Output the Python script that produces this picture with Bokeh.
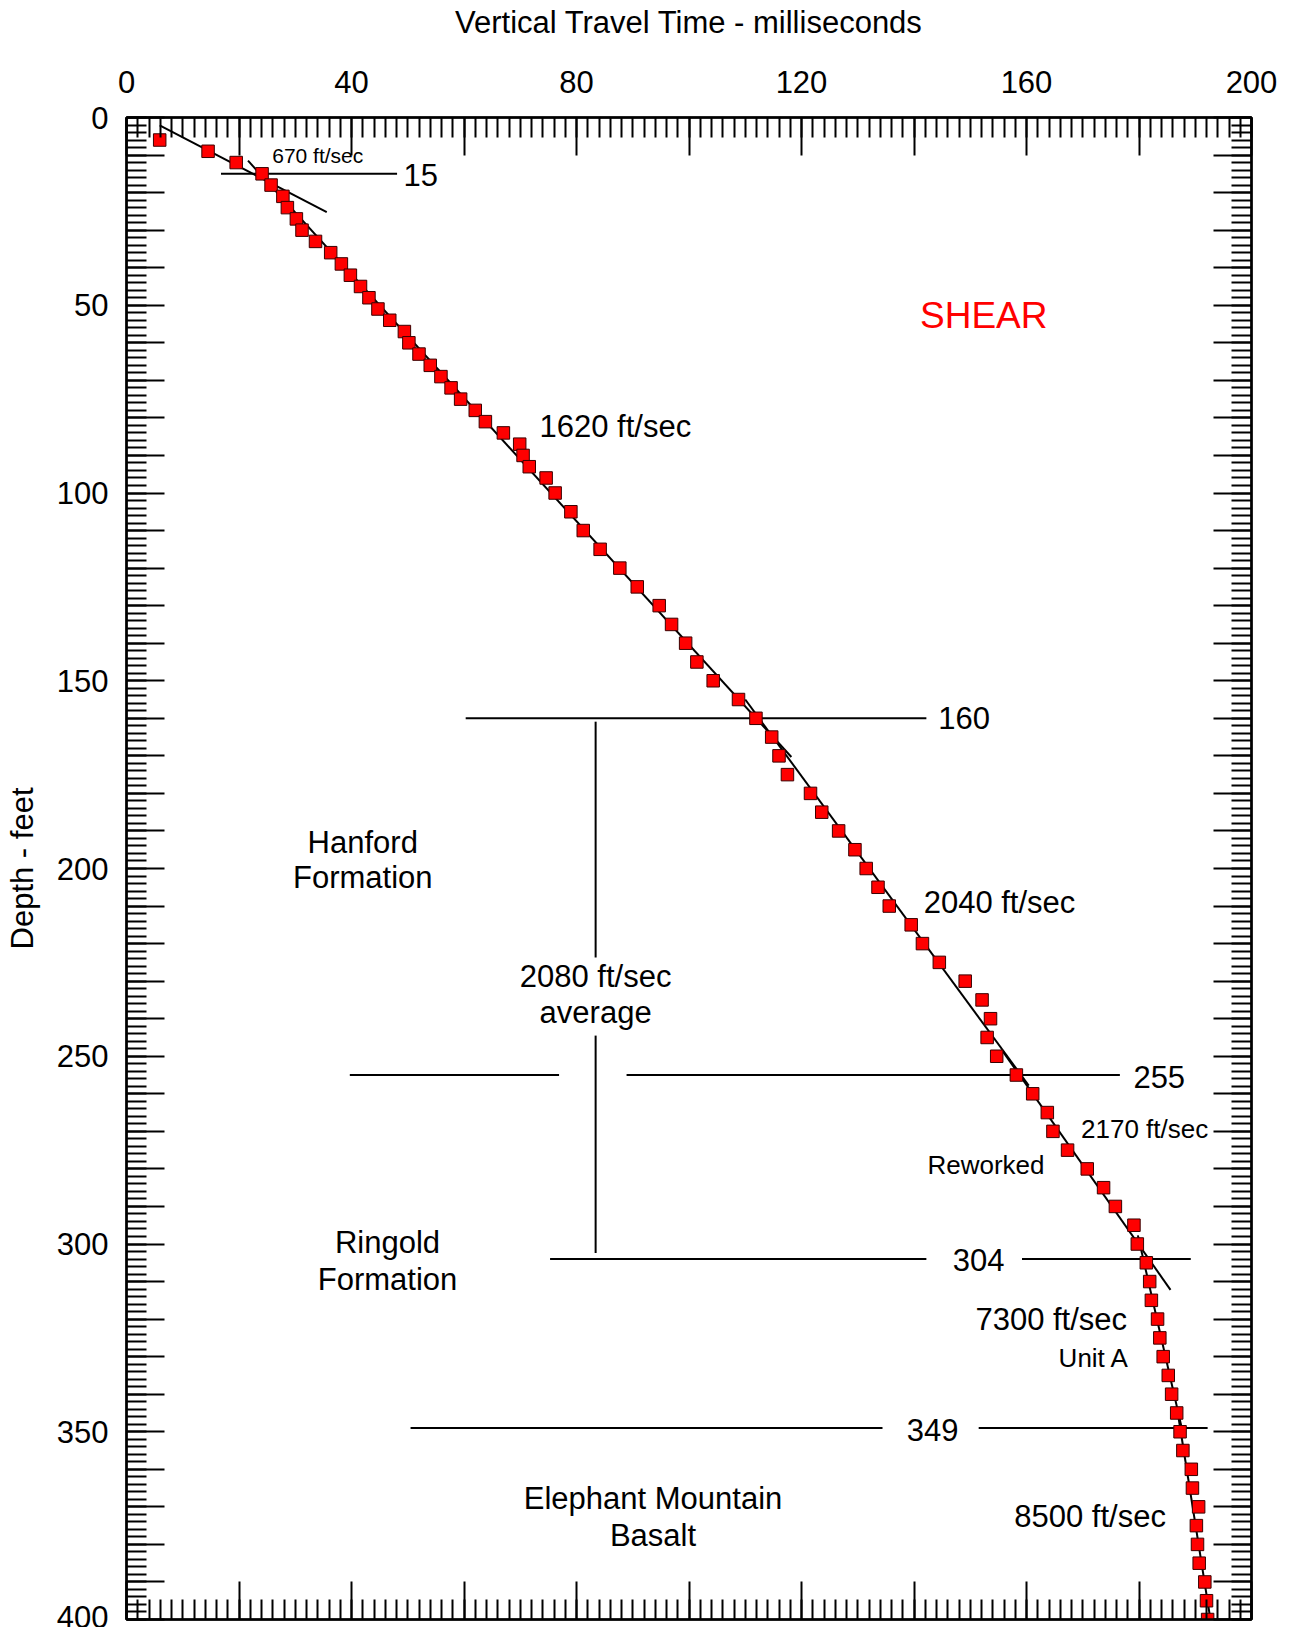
from bokeh.plotting import figure
from bokeh.models import Range1d, LinearAxis, FixedTicker, Label
from bokeh.embed import file_html
from bokeh.resources import INLINE

# ---------------- data ----------------
depth_ft = [6, 9, 12, 15, 18, 21, 24, 27, 30, 33, 36, 39, 42, 45, 48, 51, 54, 57, 60, 63,
            66, 69, 72, 75, 78, 81, 84, 87, 90, 93, 96,
            100, 105, 110, 115, 120, 125, 130, 135, 140, 145, 150, 155, 160, 165, 170, 175,
            180, 185, 190, 195, 200, 205, 210, 215, 220, 225, 230, 235, 240, 245, 250, 255,
            260, 265, 270, 275, 280, 285, 290, 295, 300, 305, 310, 315, 320, 325, 330, 335,
            340, 345, 350, 355, 360, 365, 370, 375, 380, 385, 390, 395, 400]
time_ms = [5.9, 14.5, 19.5, 24.1, 25.7, 27.8, 28.6, 30.2, 31.2, 33.6, 36.3, 38.2, 39.8, 41.6,
           43.1, 44.7, 46.8, 49.4, 50.2, 52.0, 54.0, 55.9, 57.7, 59.4, 62.0, 63.8, 67.0, 69.9,
           70.5, 71.6, 74.6,
           76.2, 79.0, 81.2, 84.2, 87.7, 90.8, 94.7, 96.9, 99.4, 101.4, 104.3, 108.8, 111.9,
           114.7, 116.0, 117.5, 121.6, 123.6, 126.6, 129.5, 131.5, 133.6, 135.6, 139.5, 141.5,
           144.5, 149.1, 152.1, 153.6, 153.0, 154.7, 158.2, 161.1, 163.7, 164.7, 167.3, 170.8,
           173.7, 175.8, 179.1, 179.7, 181.3, 181.9, 182.2, 183.3, 183.7, 184.3, 185.2, 185.8,
           186.7, 187.3, 187.8, 189.3, 189.5, 190.6, 190.2, 190.4, 190.7, 191.7, 192.0, 192.2]

# velocity fit lines (start/end time in ms, start/end depth in ft)
fit_t0 = [5.9, 21.6, 110.0, 155.7, 179.8, 186.9]
fit_d0 = [2.1, 11.5, 155.0, 248.5, 297.7, 345.0]
fit_t1 = [35.6, 118.2, 160.4, 185.6, 187.6, 192.7]
fit_d1 = [25.2, 170.3, 257.8, 312.2, 349.0, 400.0]

# formation boundary lines (depth ft, from/to time ms)
bound_depth = [15, 160, 255, 255, 304, 304, 349, 349]
bound_t0 = [16.8, 60.3, 39.7, 88.9, 75.3, 159.2, 50.5, 151.5]
bound_t1 = [48.1, 142.2, 76.9, 176.6, 142.2, 189.2, 134.4, 192.2]

# average-velocity bracket (vertical lines)
avg_t = [83.4, 83.4]
avg_d0 = [160.9, 244.5]
avg_d1 = [223.7, 302.4]

# big annotations: text, time, depth
big_text = ["15", "160", "255", "304", "349", "1620 ft/sec", "2040 ft/sec",
            "2080 ft/sec", "average", "Hanford", "Formation", "Ringold", "Formation",
            "7300 ft/sec", "8500 ft/sec", "Elephant Mountain", "Basalt"]
big_t = [52.3, 148.9, 183.6, 151.5, 143.3, 86.9, 155.2, 83.4, 83.4, 42.0, 42.0, 46.4, 46.4,
         164.4, 171.3, 93.6, 93.6]
big_d = [15.3, 160.0, 255.5, 304.3, 349.6, 82.2, 209.1, 228.7, 238.4, 193.0, 202.4, 299.6,
         309.4, 320.2, 372.5, 367.8, 377.5]

small_text = ["670 ft/sec", "2170 ft/sec", "Reworked", "Unit A"]
small_t = [34.0, 181.0, 152.8, 172.0]
small_d = [10.1, 269.4, 278.9, 330.4]
small_size = ["21px", "26px", "26px", "26px"]

x_title = "Vertical Travel Time - milliseconds"
y_title = "Depth - feet"

x_labels = [0, 40, 80, 120, 160, 200]          # labelled time ticks
x_long = [20, 60, 100, 140, 180]               # unlabelled long time ticks
x_minor = list(range(0, 201, 2))
y_labels = [0, 50, 100, 150, 200, 250, 300, 350, 400]
y_long = [v for v in range(0, 401, 10) if v % 50 != 0]
y_minor = list(range(0, 401, 2))

FONT = "Liberation Sans"

p = figure(width=1280, height=1627, x_range=Range1d(0, 200), y_range=Range1d(400, 0),
           x_axis_location=None, y_axis_location=None,
           output_backend="svg", toolbar_location=None,
           min_border_left=126, min_border_right=29, min_border_top=117,
           min_border_bottom=8)
p.xgrid.visible = False
p.ygrid.visible = False
p.outline_line_color = "black"
p.outline_line_width = 2
p.background_fill_color = "white"
p.border_fill_color = "white"


def base(ax):
    ax.major_tick_out = 0
    ax.minor_tick_out = 0
    ax.major_tick_line_width = 2
    ax.minor_tick_line_width = 2
    ax.axis_line_width = 2
    ax.major_tick_line_color = "black"
    ax.minor_tick_line_color = "black"
    ax.axis_line_color = "black"
    ax.major_label_text_font = FONT
    ax.major_label_text_color = "black"
    ax.major_label_text_font_size = "31px"
    ax.axis_label_text_font = FONT
    ax.axis_label_text_font_style = "normal"
    ax.axis_label_text_color = "black"
    ax.axis_label_text_font_size = "31px"
    return ax


def long_only(ticks):
    # axis without labels drawing only the long unlabelled ticks
    ax = base(LinearAxis(ticker=FixedTicker(ticks=[], minor_ticks=ticks)))
    ax.minor_tick_in = 38
    ax.major_label_standoff = 0
    return ax


# top
p.add_layout(long_only(x_long), "above")
top = base(LinearAxis(ticker=FixedTicker(ticks=x_labels, minor_ticks=x_minor)))
top.major_tick_in = 38
top.minor_tick_in = 20
top.major_label_standoff = 25
top.axis_label = x_title
top.axis_label_standoff = 28
p.add_layout(top, "above")

# left
p.add_layout(long_only(y_long), "left")
left = base(LinearAxis(ticker=FixedTicker(ticks=y_labels, minor_ticks=y_minor)))
left.major_tick_in = 38
left.minor_tick_in = 20
left.axis_label = y_title
left.major_label_standoff = 18
left.axis_label_standoff = 14
p.add_layout(left, "left")

# bottom and right: ticks only
p.add_layout(long_only(x_labels + x_long), "below")
bmin = base(LinearAxis(ticker=FixedTicker(ticks=[], minor_ticks=x_minor)))
bmin.minor_tick_in = 20
bmin.major_label_standoff = 0
p.add_layout(bmin, "below")

p.add_layout(long_only(y_labels + y_long), "right")
rmin = base(LinearAxis(ticker=FixedTicker(ticks=[], minor_ticks=y_minor)))
rmin.minor_tick_in = 20
rmin.major_label_standoff = 0
p.add_layout(rmin, "right")

# boundary lines
p.segment(x0=bound_t0, y0=bound_depth, x1=bound_t1, y1=bound_depth,
          line_color="black", line_width=2)
p.segment(x0=avg_t, y0=avg_d0, x1=avg_t, y1=avg_d1, line_color="black", line_width=2)
# fit lines
p.segment(x0=fit_t0, y0=fit_d0, x1=fit_t1, y1=fit_d1, line_color="black", line_width=2)
# data points
p.scatter(time_ms, depth_ft, marker="square", size=12.5, fill_color="#ff0000",
          line_color="#3a0000", line_width=1)

for s, t, d in zip(big_text, big_t, big_d):
    p.add_layout(Label(x=t, y=d, text=s, text_align="center", text_baseline="middle",
                       text_font=FONT, text_font_size="31px", text_color="black"))
for s, t, d, fs in zip(small_text, small_t, small_d, small_size):
    p.add_layout(Label(x=t, y=d, text=s, text_align="center", text_baseline="middle",
                       text_font=FONT, text_font_size=fs, text_color="black"))
p.add_layout(Label(x=152.4, y=52.8, text="SHEAR", text_align="center", text_baseline="middle",
                   text_font=FONT, text_font_size="37px", text_color="#ff0000"))

open("out.html", "w").write(file_html(p, INLINE))
